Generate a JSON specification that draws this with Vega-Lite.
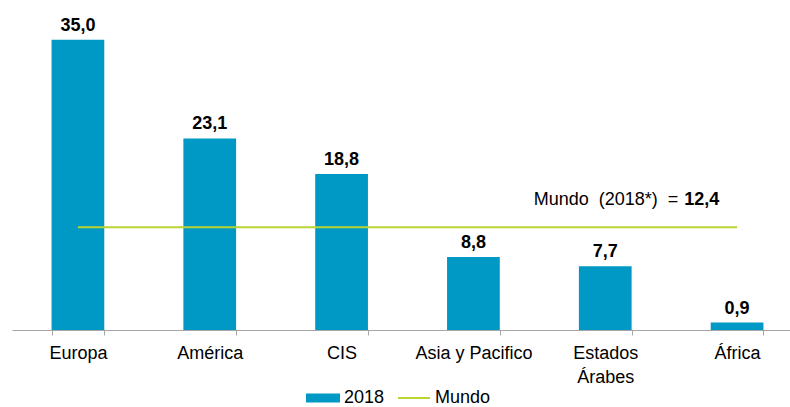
{
  "$schema": "https://vega.github.io/schema/vega-lite/v6.json",
  "width": 791,
  "height": 330,
  "autosize": "none",
  "padding": {"left": 12, "top": 0, "right": 0, "bottom": 77},
  "background": "white",
  "config": {
    "view": {"stroke": null},
    "font": "Liberation Sans",
    "text": {"font": "Liberation Sans"}
  },
  "data": {
    "values": [
      {"region": "Europa", "value": 35.0, "label": "35,0", "series": "2018"},
      {"region": "América", "value": 23.1, "label": "23,1", "series": "2018"},
      {"region": "CIS", "value": 18.8, "label": "18,8", "series": "2018"},
      {"region": "Asia y Pacifico", "value": 8.8, "label": "8,8", "series": "2018"},
      {"region": "Estados Árabes", "value": 7.7, "label": "7,7", "series": "2018"},
      {"region": "África", "value": 0.9, "label": "0,9", "series": "2018"}
    ]
  },
  "encoding": {
    "x": {
      "field": "region",
      "type": "nominal",
      "sort": null,
      "scale": {"domain": ["Europa", "América", "CIS", "Asia y Pacifico", "Estados Árabes", "África"], "paddingInner": 0.6, "paddingOuter": 0.3},
      "axis": {
        "title": null,
        "labelAngle": 0,
        "labelFont": "Liberation Sans",
        "labelFontSize": 18,
        "labelColor": "#000000",
        "labelPadding": 9,
        "labelLineHeight": 24,
        "labelExpr": "datum.label == 'Estados Árabes' ? ['Estados', 'Árabes'] : datum.label",
        "domainColor": "#a6a6a6",
        "tickColor": "#a6a6a6",
        "tickSize": 5,
        "tickBand": "extent",
        "grid": false
      }
    }
  },
  "layer": [
    {
      "mark": {"type": "bar", "color": "#0098c4"},
      "encoding": {
        "y": {"field": "value", "type": "quantitative", "scale": {"domain": [0, 39.8], "nice": false}, "axis": null},
        "color": {"field": "series", "type": "nominal", "scale": {"domain": ["2018", "Mundo"], "range": ["#0098c4", "#b9d531"]},
          "legend": {
            "title": null,
            "orient": "none",
            "direction": "horizontal",
            "legendX": 294,
            "legendY": 381,
            "labelFont": "Liberation Sans",
            "labelFontSize": 18,
            "labelColor": "#000000",
            "symbolSize": 1024,
            "labelOffset": 4,
            "columnPadding": 9,
            "encode": {
              "symbols": {
                "update": {
                  "shape": {"signal": "datum.value == '2018' ? 'M-1,-0.22H1V0.22H-1Z' : 'M-1,0H1'"},
                  "fill": {"signal": "datum.value == '2018' ? '#0098c4' : 'transparent'"},
                  "stroke": {"signal": "datum.value == '2018' ? 'transparent' : '#b9d531'"},
                  "strokeWidth": {"value": 2},
                  "opacity": {"value": 1}
                }
              }
            }
          }
        }
      }
    },
    {
      "mark": {"type": "text", "fontWeight": "bold", "fontSize": 18, "baseline": "alphabetic", "dy": -9, "color": "#000000"},
      "encoding": {
        "y": {"field": "value", "type": "quantitative"},
        "text": {"field": "label"}
      }
    },
    {
      "data": {"values": [{"from": "Europa", "to": "África", "value": 12.4, "series": "Mundo"}]},
      "mark": {"type": "rule", "strokeWidth": 2},
      "encoding": {
        "x": {"field": "from", "type": "nominal"},
        "x2": {"field": "to"},
        "y": {"field": "value", "type": "quantitative"},
        "color": {"field": "series", "type": "nominal"}
      }
    },
    {
      "data": {"values": [{"region": "Estados Árabes", "value": 12.4, "t": "Mundo\u00a0 (2018*)\u00a0 ="}]},
      "mark": {"type": "text", "fontSize": 18, "align": "right", "baseline": "alphabetic", "dx": 73, "dy": -22, "color": "#000000"},
      "encoding": {
        "y": {"field": "value", "type": "quantitative"},
        "text": {"field": "t"}
      }
    },
    {
      "data": {"values": [{"region": "Estados Árabes", "value": 12.4, "t": "12,4"}]},
      "mark": {"type": "text", "fontSize": 18, "fontWeight": "bold", "align": "left", "baseline": "alphabetic", "dx": 79, "dy": -22, "color": "#000000"},
      "encoding": {
        "y": {"field": "value", "type": "quantitative"},
        "text": {"field": "t"}
      }
    }
  ]
}
